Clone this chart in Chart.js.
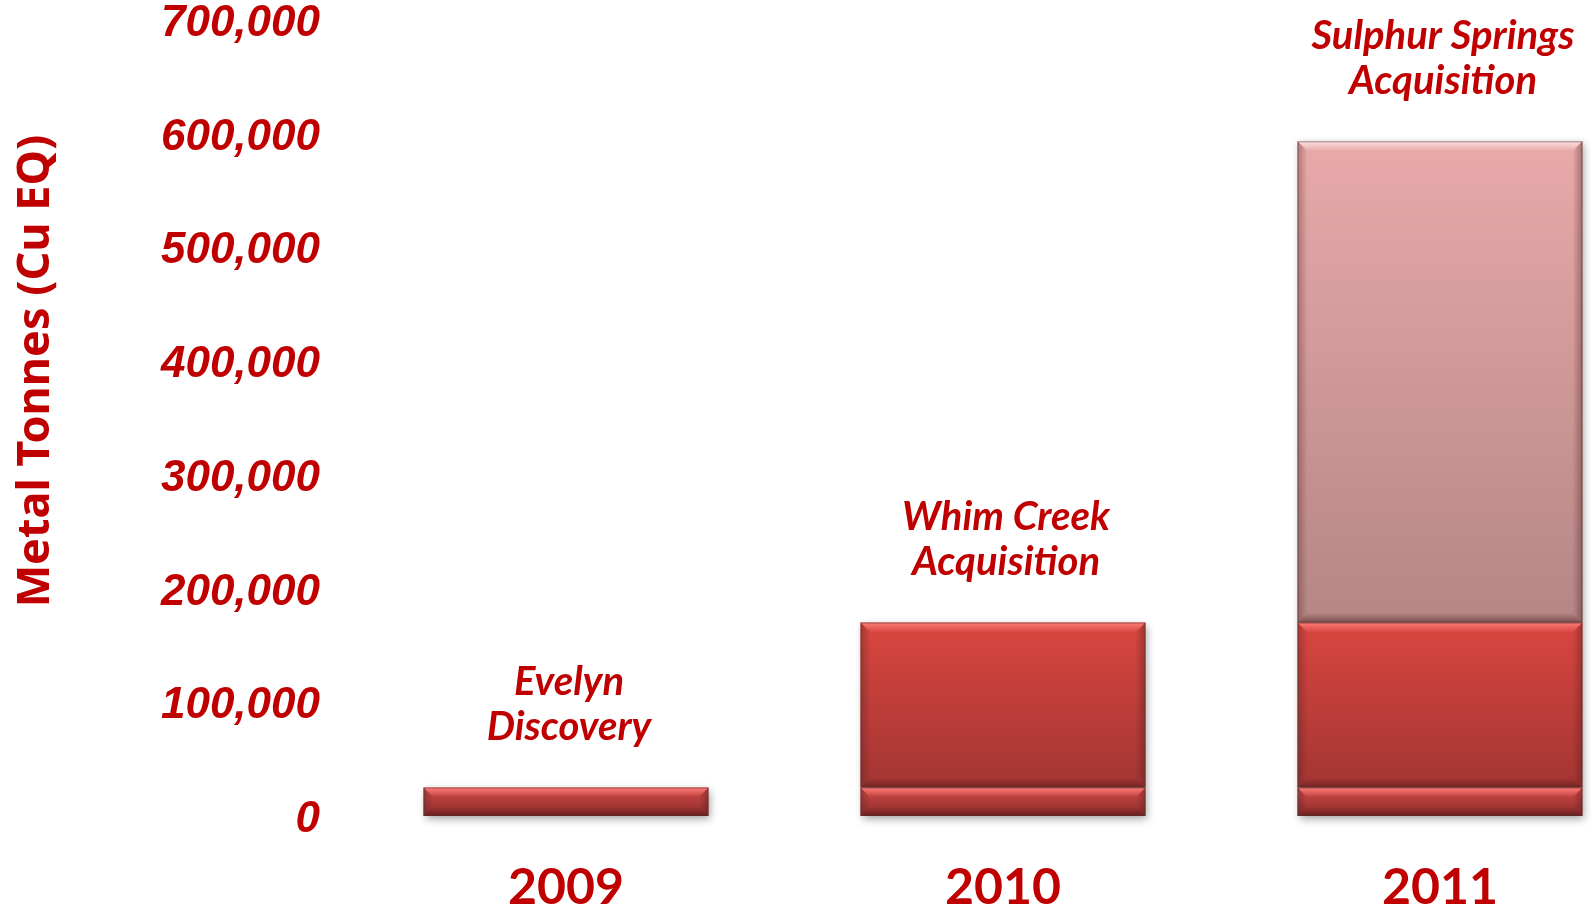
<!DOCTYPE html>
<html><head><meta charset="utf-8">
<script src="https://cdn.jsdelivr.net/npm/chart.js@4.4.1/dist/chart.umd.min.js"></script>
<style>html,body{margin:0;padding:0;background:#fff;} #wrap{width:1596px;height:910px;position:relative}</style>
</head><body><div id="wrap"><canvas id="c" width="1596" height="910"></canvas></div>
<script>
const years = [2009, 2010, 2011];
const evelyn = [25000, 25000, 25000];
const whimCreek = [null, 145000, 145000];
const sulphurSprings = [null, null, 423000];
const annotations = [['Evelyn', 'Discovery'], ['Whim Creek', 'Acquisition'], ['Sulphur Springs', 'Acquisition']];
const yTickValues = [0, 100000, 200000, 300000, 400000, 500000, 600000, 700000];
const axisTitle = 'Metal Tonnes (Cu EQ)';

const RED = '#C00000';
const seriesList = [evelyn, whimCreek, sulphurSprings];
const palettes = [
  ['#D24A47', '#8E2C2C'],
  ['#D9463F', '#A33533'],
  ['#E8A9A9', '#B58684']
];

function gradFor(dsIndex) {
  return function (ctx) {
    const chart = ctx.chart;
    const pal = palettes[dsIndex];
    if (!chart.chartArea || !chart.scales.y) return pal[0];
    const i = ctx.dataIndex;
    let start = 0;
    for (let d = 0; d < dsIndex; d++) start += (seriesList[d][i] || 0);
    const end = start + (seriesList[dsIndex][i] || 0);
    const y0 = chart.scales.y.getPixelForValue(start);
    const y1 = chart.scales.y.getPixelForValue(end);
    if (!isFinite(y0) || !isFinite(y1) || y0 === y1) return pal[0];
    const g = chart.ctx.createLinearGradient(0, y1, 0, y0);
    g.addColorStop(0, pal[0]);
    g.addColorStop(1, pal[1]);
    return g;
  };
}

const bevelPlugin = {
  id: 'bevel',
  beforeDatasetsDraw(chart) {
    const c = chart.ctx;
    c.save();
    c.shadowColor = 'rgba(0,0,0,0.35)';
    c.shadowBlur = 8;
    c.shadowOffsetX = 2;
    c.shadowOffsetY = 3;
  },
  afterDatasetsDraw(chart) {
    const c = chart.ctx;
    c.restore();
    chart.data.datasets.forEach((ds, di) => {
      const meta = chart.getDatasetMeta(di);
      meta.data.forEach((bar, i) => {
        if (ds.data[i] == null || ds.data[i].y == null) return;
        const left = bar.x - bar.width / 2, right = bar.x + bar.width / 2;
        const top = Math.min(bar.y, bar.base), bottom = Math.max(bar.y, bar.base);
        const h = bottom - top;
        const band = Math.min(10, h / 3);
        c.save();
        let g = c.createLinearGradient(0, top, 0, top + band);
        g.addColorStop(0, di === 2 ? 'rgba(255,235,235,0.9)' : 'rgba(255,130,125,0.95)');
        g.addColorStop(1, di === 2 ? 'rgba(255,220,220,0)' : 'rgba(255,120,115,0)');
        c.fillStyle = g;
        c.beginPath();
        c.moveTo(left, top); c.lineTo(right, top); c.lineTo(right - band, top + band); c.lineTo(left + band, top + band); c.closePath();
        c.fill();
        g = c.createLinearGradient(0, bottom - band, 0, bottom);
        g.addColorStop(0, 'rgba(60,20,20,0)');
        g.addColorStop(1, 'rgba(60,20,20,0.45)');
        c.fillStyle = g;
        c.beginPath();
        c.moveTo(left, bottom); c.lineTo(right, bottom); c.lineTo(right - band, bottom - band); c.lineTo(left + band, bottom - band); c.closePath();
        c.fill();
        g = c.createLinearGradient(left, 0, left + band, 0);
        g.addColorStop(0, 'rgba(70,30,30,0.35)');
        g.addColorStop(1, 'rgba(70,30,30,0)');
        c.fillStyle = g;
        c.beginPath();
        c.moveTo(left, top); c.lineTo(left + band, top + band); c.lineTo(left + band, bottom - band); c.lineTo(left, bottom); c.closePath();
        c.fill();
        g = c.createLinearGradient(right, 0, right - band, 0);
        g.addColorStop(0, 'rgba(70,30,30,0.4)');
        g.addColorStop(1, 'rgba(70,30,30,0)');
        c.fillStyle = g;
        c.beginPath();
        c.moveTo(right, top); c.lineTo(right - band, top + band); c.lineTo(right - band, bottom - band); c.lineTo(right, bottom); c.closePath();
        c.fill();
        c.strokeStyle = 'rgba(90,50,50,0.55)';
        c.lineWidth = 1;
        c.strokeRect(left + 0.5, top + 0.5, bar.width - 1, h - 1);
        c.restore();
      });
    });
  }
};

const textPlugin = {
  id: 'texts',
  afterDraw(chart) {
    const c = chart.ctx;
    const xs = chart.scales.x, ys = chart.scales.y;
    c.save();
    c.fillStyle = RED;
    c.textAlign = 'center';
    c.textBaseline = 'middle';
    c.font = 'italic bold 40px Lato';
    annotations.forEach((lines, i) => {
      let total = 0;
      seriesList.forEach(s => total += (s[i] || 0));
      const x = xs.getPixelForValue(years[i]) + 3;
      const yTop = ys.getPixelForValue(total);
      lines.forEach((t, k) => {
        c.fillText(t, x, yTop - 60 - (lines.length - 1 - k) * 45);
      });
    });
    c.translate(36, 371);
    c.rotate(-Math.PI / 2);
    c.font = 'bold 45px "Noto Sans"';
    c.fillText(axisTitle, 0, 0);
    c.restore();
  }
};

const mkData = (arr) => years.map((yr, i) => ({ x: yr, y: arr[i] }));

new Chart(document.getElementById('c'), {
  type: 'bar',
  data: {
    datasets: [
      { label: 'Evelyn Discovery', data: mkData(evelyn), backgroundColor: gradFor(0), clip: false },
      { label: 'Whim Creek Acquisition', data: mkData(whimCreek), backgroundColor: gradFor(1), clip: false },
      { label: 'Sulphur Springs Acquisition', data: mkData(sulphurSprings), backgroundColor: gradFor(2), clip: false }
    ]
  },
  plugins: [bevelPlugin, textPlugin],
  options: {
    responsive: false,
    animation: false,
    devicePixelRatio: 1,
    categoryPercentage: 1,
    barPercentage: 0.652,
    layout: { padding: { top: 0, right: 0, left: 0, bottom: 0 } },
    plugins: { legend: { display: false }, tooltip: { enabled: false } },
    scales: {
      x: {
        type: 'linear',
        offset: false,
        stacked: true,
        min: 2008.46,
        max: 2011.357,
        grid: { display: false, offset: false },
        border: { display: false },
        afterBuildTicks: (s) => { s.ticks = years.map(v => ({ value: v })); },
        afterFit: (s) => { s.height = 94; },
        ticks: {
          color: RED,
          font: { family: 'Lato', weight: 'bold', size: 50 },
          padding: 34,
          maxRotation: 0,
          callback: (v) => String(v)
        }
      },
      y: {
        stacked: true,
        min: 0,
        max: 700000,
        grid: { display: false },
        border: { display: false },
        afterBuildTicks: (s) => { s.ticks = yTickValues.map(v => ({ value: v })); },
        afterFit: (s) => { s.width = 330; },
        ticks: {
          color: RED,
          font: { family: 'Liberation Sans', weight: 'bold', style: 'italic', size: 44, lineHeight: 0.8 },
          padding: 2,
          labelOffset: 4,
          callback: (v) => v.toLocaleString('en-US')
        }
      }
    }
  }
});
</script>
</body></html>
